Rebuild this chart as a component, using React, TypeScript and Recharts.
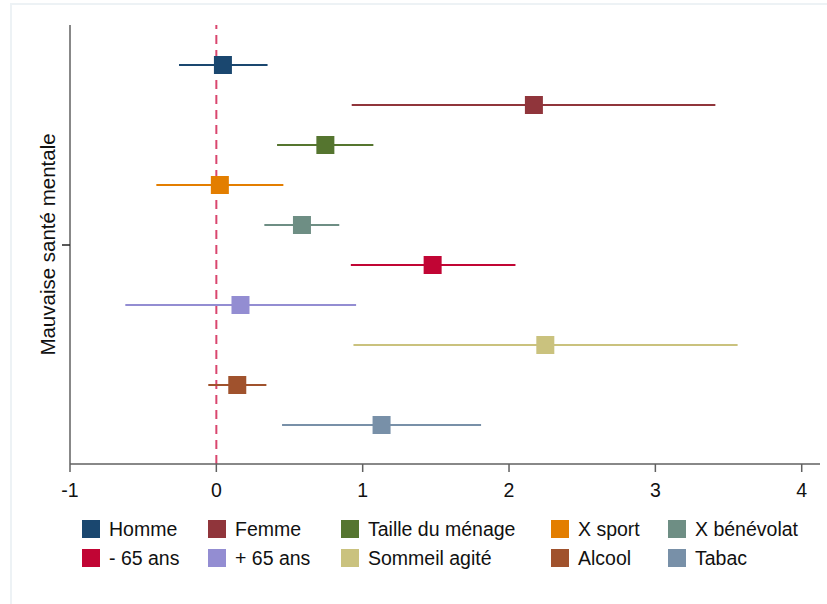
import {
  ErrorBar,
  Label,
  Legend,
  ReferenceLine,
  Scatter,
  ScatterChart,
  XAxis,
  YAxis,
} from "recharts";

const FONT = '"Liberation Sans", Arial, Helvetica, sans-serif';

// coefficients and 95% CI bounds, one row per variable
const labels = [
  "Homme",
  "Femme",
  "Taille du ménage",
  "X sport",
  "X bénévolat",
  "- 65 ans",
  "+ 65 ans",
  "Sommeil agité",
  "Alcool",
  "Tabac",
];
const coef = [0.045, 2.17, 0.745, 0.024, 0.585, 1.478, 0.165, 2.248, 0.143, 1.129];
const ciLow = [-0.255, 0.925, 0.415, -0.41, 0.328, 0.919, -0.622, 0.937, -0.055, 0.449];
const ciHigh = [0.35, 3.41, 1.073, 0.458, 0.84, 2.044, 0.955, 3.562, 0.342, 1.809];
const colors = [
  "#1a476f",
  "#90353b",
  "#55752f",
  "#e37e00",
  "#6e8e84",
  "#c10534",
  "#938dd2",
  "#cac27e",
  "#a0522d",
  "#7890a8",
];
const xTicks = [-1, 0, 1, 2, 3, 4];

const series = labels.map((name, i) => ({
  name,
  color: colors[i],
  data: [{ x: coef[i], y: i, err: [coef[i] - ciLow[i], ciHigh[i] - coef[i]] }],
}));

const Square = (props: any) => {
  const { cx, cy, fill } = props;
  return <rect x={cx - 9} y={cy - 9} width={18} height={18} fill={fill} />;
};

const YTitle = (props: any) => {
  const { viewBox } = props;
  const cy = viewBox.y + viewBox.height / 2;
  return (
    <text
      x={47}
      y={cy}
      transform={`rotate(-90 47 ${cy})`}
      textAnchor="middle"
      dominantBaseline="central"
      fontSize={20.5}
      fontFamily={FONT}
      fill="#111"
    >
      Mauvaise santé mentale
    </text>
  );
};

const legendCols = [82, 208, 341, 551, 668];

const LegendBox = () => (
  <div style={{ position: "relative", width: 827, height: 80, fontFamily: FONT }}>
    {series.map((s, i) => (
      <div
        key={s.name}
        style={{
          position: "absolute",
          left: legendCols[i % 5],
          top: i < 5 ? 16 : 45,
          display: "flex",
          alignItems: "center",
          height: 18,
          whiteSpace: "nowrap",
        }}
      >
        <span style={{ width: 18, height: 18, background: s.color, display: "inline-block" }} />
        <span style={{ marginLeft: 9, fontSize: 19.5, color: "#111", lineHeight: "18px" }}>
          {s.name}
        </span>
      </div>
    ))}
  </div>
);

export default function App() {
  return (
    <div style={{ position: "absolute", left: 0, top: 0, width: 827, height: 604, background: "#fff" }}>
      <div
        style={{
          position: "absolute",
          left: 10,
          top: 3,
          right: 0,
          bottom: 0,
          borderLeft: "2px solid #edf2f5",
          borderTop: "2px solid #edf2f5",
        }}
      />
      <ScatterChart width={827} height={604} margin={{ top: 25, right: 7, bottom: 20, left: 0 }}>
        <XAxis
          type="number"
          dataKey="x"
          domain={[-1, 4.125]}
          ticks={xTicks}
          allowDataOverflow
          height={40}
          tickSize={8}
          tickMargin={11}
          stroke="#606060"
          strokeWidth={1.5}
          tick={{ fontSize: 19.5, fill: "#111", fontFamily: FONT }}
        />
        <YAxis
          type="number"
          dataKey="y"
          domain={[-1, 9.975]}
          ticks={[4.5]}
          reversed
          allowDataOverflow
          width={70}
          tickSize={8}
          tickFormatter={() => ""}
          tickLine={{ stroke: "#222", strokeWidth: 1.5 }}
          stroke="#606060"
          strokeWidth={1.5}
        >
          <Label content={<YTitle />} />
        </YAxis>
        <ReferenceLine x={0} stroke="#d9466e" strokeWidth={2} strokeDasharray="9 6" />
        {series.map((s) => (
          <Scatter
            key={s.name}
            name={s.name}
            data={s.data}
            fill={s.color}
            shape={<Square />}
            isAnimationActive={false}
          >
            <ErrorBar
              dataKey="err"
              direction="x"
              width={0}
              stroke={s.color}
              strokeWidth={2}
              isAnimationActive={false}
            />
          </Scatter>
        ))}
        <Legend
          verticalAlign="bottom"
          content={<LegendBox />}
          wrapperStyle={{ left: 0, width: 827, height: 80 }}
        />
      </ScatterChart>
    </div>
  );
}
